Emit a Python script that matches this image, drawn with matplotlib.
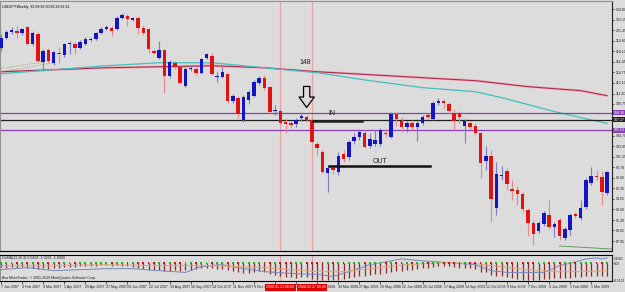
import numpy as np
import matplotlib
matplotlib.use('Agg')
import matplotlib.pyplot as plt
import matplotlib.transforms as mtransforms
from matplotlib.patches import FancyArrowPatch

plt.rcParams['font.family'] = ['Liberation Sans Narrow', 'Liberation Sans', 'DejaVu Sans']

# USDJPY weekly, first bar = week of 7 Jan 2007
opens = [118.67, 120.25, 121.20, 121.36, 121.04, 121.99, 119.30, 120.89, 116.45, 118.35,
         116.30, 117.88, 117.56, 119.22, 119.30, 118.67, 119.30, 119.94, 120.09, 121.04,
         121.68, 121.84, 121.68, 123.42, 123.74, 123.15, 123.42, 121.84, 121.68, 118.19,
         117.09, 118.35, 114.24, 116.30, 115.66, 112.65, 115.35, 115.35, 114.71, 117.09,
         117.40, 114.00, 114.08, 114.55, 110.28, 110.75, 107.27, 110.44, 111.07, 113.13,
         113.92, 112.50, 108.62, 108.70, 106.80, 106.64, 106.64, 107.59, 107.75, 107.27,
         103.31, 102.05, 98.72, 99.52, 98.88, 101.73, 101.26, 103.79, 104.42, 105.21,
         103.00, 103.31, 103.31, 105.21, 104.42, 108.22, 107.11, 106.16, 106.80, 106.01,
         106.80, 107.91, 107.43, 109.96, 110.28, 109.81, 108.38, 108.38, 106.32, 106.80,
         106.32, 105.06, 100.62, 101.42, 93.18, 98.25, 99.04, 96.19, 96.03, 95.40,
         92.87, 90.81, 89.54, 90.65, 92.08, 90.18, 91.28, 88.43, 89.70, 92.23,
         91.60, 93.34, 97.14, 98.25, 98.09, 95.56]
highs = [120.89, 121.52, 121.99, 122.15, 121.84, 122.15, 121.36, 121.20, 118.51, 118.67,
         118.19, 118.83, 119.46, 119.78, 119.62, 119.94, 120.41, 120.41, 121.20, 121.99,
         122.31, 122.15, 123.74, 124.21, 124.05, 123.58, 123.74, 122.31, 121.84, 118.51,
         119.78, 118.51, 116.77, 116.61, 115.98, 115.66, 115.82, 115.66, 117.09, 117.88,
         117.88, 114.87, 115.66, 114.71, 111.39, 111.07, 111.23, 112.02, 113.60, 114.24,
         114.40, 112.65, 109.65, 109.01, 107.43, 107.11, 107.59, 108.22, 108.06, 107.59,
         103.63, 102.36, 99.83, 99.99, 102.05, 102.36, 103.95, 105.06, 105.69, 105.53,
         105.06, 105.53, 105.85, 105.69, 108.54, 108.54, 107.75, 107.11, 107.27, 107.11,
         108.06, 108.38, 110.28, 110.75, 110.60, 110.12, 109.01, 108.70, 107.43, 107.11,
         106.80, 105.37, 103.00, 102.36, 100.47, 99.83, 99.52, 97.62, 96.67, 95.72,
         93.18, 91.28, 91.13, 92.71, 94.45, 90.97, 91.60, 90.18, 92.39, 92.55,
         94.45, 97.93, 99.67, 99.20, 99.04, 99.04]
lows = [118.19, 120.09, 120.89, 120.25, 120.73, 119.14, 118.99, 116.30, 115.03, 116.30,
        115.98, 116.30, 117.25, 117.72, 117.72, 118.51, 119.14, 119.78, 119.94, 120.89,
        121.52, 120.57, 121.52, 123.26, 122.15, 122.94, 120.89, 120.73, 117.88, 117.72,
        116.93, 111.55, 113.92, 115.35, 112.97, 112.50, 115.03, 114.40, 114.55, 116.93,
        114.40, 113.29, 113.92, 109.96, 109.96, 107.59, 106.96, 109.81, 110.91, 112.81,
        112.02, 108.38, 108.06, 106.48, 105.06, 105.85, 106.16, 107.11, 106.96, 103.47,
        101.57, 98.72, 95.72, 98.57, 98.41, 100.47, 100.78, 103.31, 103.95, 102.68,
        102.68, 103.00, 103.00, 104.42, 104.26, 106.32, 105.37, 105.37, 105.53, 103.79,
        106.48, 107.43, 107.27, 109.65, 109.01, 108.22, 105.53, 106.80, 103.47, 105.69,
        104.74, 97.93, 99.20, 90.97, 92.08, 97.62, 96.03, 94.45, 93.66, 92.55,
        88.75, 87.33, 89.23, 90.33, 89.86, 88.59, 88.12, 88.12, 88.91, 91.60,
        91.28, 93.03, 96.82, 97.62, 93.66, 95.24]
closes = [120.25, 121.20, 121.52, 121.04, 121.68, 119.30, 121.04, 116.61, 118.19, 116.61,
          118.04, 117.72, 119.30, 119.38, 118.67, 119.62, 120.09, 120.09, 121.04, 121.68,
          121.99, 121.36, 123.42, 123.89, 123.26, 123.26, 121.84, 121.04, 118.51, 117.88,
          118.35, 114.24, 116.45, 115.66, 113.13, 115.35, 115.50, 114.71, 116.93, 117.72,
          114.55, 114.16, 114.87, 110.28, 111.07, 108.22, 110.91, 111.70, 113.29, 113.92,
          112.34, 108.54, 108.86, 106.80, 106.64, 106.48, 107.27, 107.75, 107.27, 103.63,
          102.68, 98.88, 99.52, 99.20, 101.42, 100.94, 103.63, 104.42, 105.37, 102.84,
          104.11, 103.95, 105.53, 104.90, 108.22, 107.43, 106.16, 106.80, 106.16, 106.80,
          107.75, 107.75, 109.96, 110.28, 109.96, 108.70, 107.11, 107.75, 107.11, 106.01,
          105.06, 100.31, 101.42, 94.61, 98.57, 98.41, 96.98, 95.87, 95.40, 93.03,
          90.81, 89.07, 90.81, 92.39, 90.18, 90.65, 88.75, 89.86, 92.08, 91.92,
          93.18, 97.62, 98.25, 98.09, 95.72, 98.88]

# moving averages read every few bars
slow_ma_idx = [0, 10, 20, 30, 40, 50, 60, 70, 80, 90, 100, 110, 115]
slow_ma = [114.87, 115.19, 115.50, 115.66, 115.82, 115.50, 114.87, 114.40, 113.92, 113.45, 112.50, 111.86, 111.07]
fast_ma_idx = [0, 10, 20, 30, 40, 50, 60, 70, 80, 90, 95, 100, 105, 110, 115]
fast_ma = [114.55, 115.19, 115.82, 116.30, 116.30, 115.50, 114.71, 113.45, 112.34, 111.70, 110.75, 109.65, 108.54, 107.59, 106.64]

# drawn objects
levels = [108.38, 107.27, 105.53]
level_colors = ['#8A3FB8', '#202020', '#8A3FB8']
vlines_idx = [53, 59]
vline_labels = ['2008.01.13 00:00', '2008.02.17 00:00']
in_line = ([59.2, 68.5], 107.11)
out_line = ([62.2, 81.4], 99.83)
trend_x = [106, 116]
trend_y = [87.17, 86.69]

# indicator
hist = [-1.8, -2.2, -2.0, -2.4, -2.1, -2.6, -2.3, -2.9, -2.5, -2.7, -2.2, -2.4, -1.9, -1.7, -1.8, -1.6, -1.5, -1.3, -1.2, -1.1, -1.0,
        -1.2, -1.0, -1.3, -1.6, -1.9, -2.4, -2.8, -3.3, -3.5, -3.4, -4.0, -3.8, -3.6, -3.9, -3.5,
        -3.2, -3.0, -2.6, -2.3, -2.5, -2.7, -2.8, -3.6, -4.0,
        -4.6, -5.0, -4.8, -4.4, -4.0, -4.2, -5.2, -5.8, -6.4, -6.8, -7.0, -7.2, -7.1, -7.0,
        -7.8, -8.2, -8.5, -8.5, -8.4, -8.2, -7.9, -7.4, -6.8, -6.5, -6.2, -5.9, -5.6, -5.2, -5.0, -4.4, -4.0,
        -3.8, -3.5, -3.2, -3.0, -2.6, -2.3, -1.9, -1.6, -1.5, -1.6, -2.0, -2.2, -2.4, -2.6, -2.9,
        -4.2, -4.6, -5.8, -6.2, -6.5, -6.9, -7.4, -7.8, -8.2, -8.5, -8.5, -8.4, -8.1, -7.8, -7.6, -7.4,
        -7.5, -7.2, -7.0, -6.8, -6.4, -6.2, -6.3, -6.5, -6.2]
osc_idx = [0, 5, 10, 15, 20, 25, 30, 35, 38, 42, 45, 50, 55, 60, 63, 66, 70, 73, 76, 80,
           85, 90, 93, 96, 100, 103, 106, 109, 111, 113, 114, 115]
osc = [-3.2, -2.2, -3.7, -3.2, -2.7, -2.7, -3.7, -4.6, -1.7, -0.7, -2.2, -4.2, -5.1, -5.6, -6.6, -4.2,
       -0.7, 0.7, 2.2, 1.2, 0.3, -0.7, -3.7, -4.6, -4.6, -4.6, -1.2, 0.7, 2.2, 2.7, 2.2, 2.7]
sig_idx = [0, 10, 20, 30, 40, 45, 50, 55, 60, 65, 70, 75, 80, 85, 90, 95, 100, 105, 110, 115]
sig = [-1.2, -1.2, -0.7, -1.2, -1.2, -1.7, -2.2, -3.2, -4.2, -4.2, -2.7, -1.2, -0.2, 0.3, -0.2, -1.7, -3.2, -4.2, -4.2, -3.7]

date_labels = ['7 Jan 2007', '4 Feb 2007', '4 Mar 2007', '1 Apr 2007', '29 Apr 2007', '27 May 2007',
               '24 Jun 2007', '22 Jul 2007', '19 Aug 2007', '16 Sep 2007', '14 Oct 2007', '11 Nov 2007',
               '9 Dec 2007', '6 Jan 2008', '3 Feb 2008', '2 Mar 2008', '30 Mar 2008', '27 Apr 2008',
               '25 May 2008', '22 Jun 2008', '20 Jul 2008', '17 Aug 2008', '14 Sep 2008', '12 Oct 2008',
               '9 Nov 2008', '7 Dec 2008', '4 Jan 2009', '1 Feb 2009', '1 Mar 2009']
price_ticks = [124.80, 123.15, 121.45, 119.80, 118.10, 116.45, 114.75, 113.10, 111.40, 109.75,
               104.70, 103.05, 101.35, 99.70, 98.00, 96.35, 94.65, 93.00, 91.30, 89.65, 87.95]

BG = '#DCDCDC'
FS = 2.6

o = np.array(opens); h = np.array(highs); l = np.array(lows); c = np.array(closes)
idx = np.arange(len(o))
bull = c >= o

fig = plt.figure(figsize=(6.25, 2.92), dpi=100, facecolor=BG)
ax = fig.add_axes([0.0, 1 - 251 / 292, 612 / 625, 250 / 292], facecolor=BG)
ax2 = fig.add_axes([0.0, 1 - 281 / 292, 612 / 625, 26 / 292], facecolor=BG)

for a in (ax, ax2):
    a.set_xlim(-0.19, 115.94)
    for s in ('left', 'top'):
        a.spines[s].set_color('#909090')
    a.spines['right'].set_color('#202020')
    a.spines['bottom'].set_color('#000000')
    a.spines['right'].set_linewidth(0.8)
ax2.spines['top'].set_color('#000000')

ax.set_ylim(86.38, 126.11)

# vertical date lines
for v in vlines_idx:
    ax.axvline(v, color='#E8A0A0', lw=0.9, zorder=1)
    ax2.axvline(v, color='#E8A0A0', lw=0.9, zorder=1)

# moving averages
ax.plot(slow_ma_idx, slow_ma, color='#F0B0B8', lw=1.8, zorder=2)
ax.plot(slow_ma_idx, slow_ma, color='#B02850', lw=0.8, zorder=2)
ax.plot(fast_ma_idx, fast_ma, color='#40C0C0', lw=0.9, zorder=2)
ax.plot(trend_x, trend_y, color='#60A060', lw=0.7, zorder=2)
ax.plot([0, 8], [115.35, 116.45], color='#80A060', lw=0.6, ls=':', zorder=2)
ax.plot([0, 10], [114.87, 116.30], color='#80A060', lw=0.6, ls=':', zorder=2)

# horizontal levels
tr = mtransforms.blended_transform_factory(ax.transAxes, ax.transData)
for lv, col in zip(levels, level_colors):
    ax.axhline(lv, color=col, lw=0.9, zorder=2)
    ax.text(1.003, lv, '%.2f' % lv, transform=tr, fontsize=FS, color='white', va='center', ha='left',
            bbox=dict(fc=col, ec='none', pad=0.4), zorder=6, clip_on=False)

# candles
wick_cols = np.where(bull, '#7C7CC8', '#E88888')
body_cols = np.where(bull, '#1414C4', '#E01212')
ax.vlines(idx, l, h, colors=wick_cols, lw=0.8, zorder=3)
body_h = np.maximum(np.abs(c - o), 0.18)
ax.bar(idx, body_h, bottom=np.minimum(o, c), width=0.66, color=body_cols, edgecolor='none', zorder=4)

# annotations
ax.plot(in_line[0], [in_line[1]] * 2, color='#202020', lw=1.8, zorder=5)
ax.plot(out_line[0], [out_line[1]] * 2, color='#101010', lw=1.8, zorder=5)
ax.text(62.2, 108.25, 'IN', fontsize=5, color='#202020', ha='left', va='center', zorder=5)
ax.text(70.6, 100.65, 'OUT', fontsize=5, color='#202020', ha='left', va='center', zorder=5)
ax.text(56.6, 116.3, '148', fontsize=5, color='#202020', ha='left', va='center', zorder=5)
arrow = FancyArrowPatch((58, 112.97), (58, 108.75),
                        arrowstyle='simple,tail_width=0.45,head_width=1.1,head_length=0.75',
                        mutation_scale=10, fc=BG, ec='black', lw=0.9, zorder=6)
ax.add_patch(arrow)

ax.text(0.004, 0.985, 'USDJPY,Weekly  82.89 82.90 82.28 82.41', transform=ax.transAxes,
        fontsize=FS, va='top', ha='left', color='black')

ax.set_xticks([])
ax.yaxis.tick_right()
ax.set_yticks(price_ticks)
ax.set_yticklabels(['%.2f' % t for t in price_ticks])
ax.tick_params(axis='y', labelsize=FS, length=1.5, width=0.5, pad=1, colors='#202020')

# indicator panel
ax2.set_ylim(-8.9, 4.16)
ax2.vlines(idx, hist, 0, colors='#8E2A2A', lw=0.9, zorder=2)
ax2.plot(osc_idx, osc, color='#7888B8', lw=0.7, zorder=3)
ax2.plot(sig_idx, sig, color='#D8A878', lw=0.7, zorder=3)
ax2.scatter(idx, np.zeros(len(idx)), s=1.8, marker='s', linewidths=0,
            c=np.where(bull, '#10C010', '#D01010'), zorder=4)
ax2.text(0.004, 0.96, 'OsMA(12,26,9) 0.0423 -1.0251 -1.0000', transform=ax2.transAxes,
         fontsize=FS, va='top', ha='left', color='#202020')
ax2.text(0.004, 0.04, 'Ava MetaTrader, \u00a9 2001-2010 MetaQuotes Software Corp.', transform=ax2.transAxes,
         fontsize=FS, va='bottom', ha='left', color='#202020')
ax2.yaxis.tick_right()
ax2.set_yticks([2.4302, 0.0, -8.5613])
ax2.set_yticklabels(['2.4302', '0.00', '-8.5613'])
ax2.tick_params(axis='y', labelsize=2.3, length=1.0, width=0.5, pad=0.5, colors='#202020')

ax2.set_xticks(range(0, 4 * len(date_labels), 4))
ax2.set_xticklabels(date_labels)
ax2.tick_params(axis='x', labelsize=FS, length=2, width=0.5, pad=0.8, colors='#202020')
for t in ax2.get_xticklabels():
    t.set_ha('left')

trx = mtransforms.blended_transform_factory(ax2.transData, ax2.transAxes)
for v, lab in zip(vlines_idx, vline_labels):
    ax2.text(v, -0.24, lab, transform=trx, fontsize=FS, color='white', ha='center', va='center',
             bbox=dict(fc='#E00000', ec='none', pad=0.9), zorder=8, clip_on=False)

fig.savefig('out.png', dpi=100, facecolor=BG)
